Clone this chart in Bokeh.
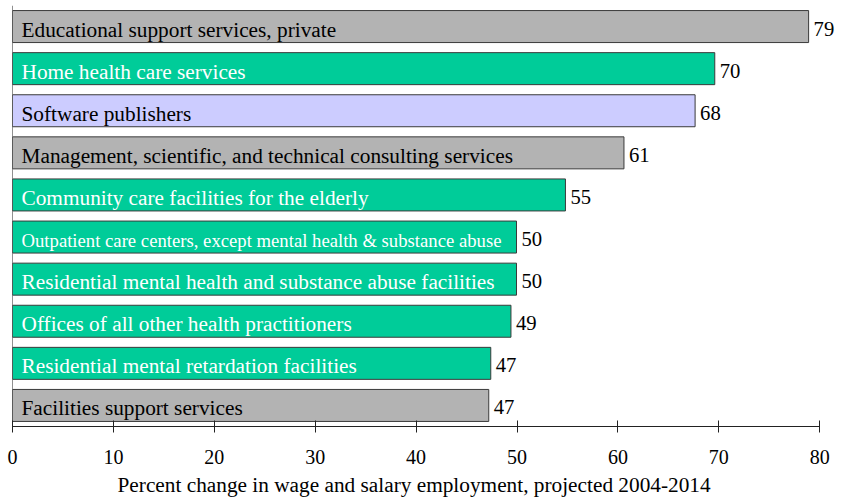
from bokeh.plotting import figure
from bokeh.models import ColumnDataSource, Range1d, FixedTicker, Span, Title
from bokeh.core.properties import value
from bokeh.embed import file_html
from bokeh.resources import INLINE

industries = [
    "Educational support services, private",
    "Home health care services",
    "Software publishers",
    "Management, scientific, and technical consulting services",
    "Community care facilities for the elderly",
    "Outpatient care centers, except mental health & substance abuse",
    "Residential mental health and substance abuse facilities",
    "Offices of all other health practitioners",
    "Residential mental retardation facilities",
    "Facilities support services",
]
pct_change = [78.9, 69.6, 67.65, 60.6, 54.8, 49.95, 49.95, 49.4, 47.4, 47.2]
pct_labels = ["79", "70", "68", "61", "55", "50", "50", "49", "47", "47"]
groups = ["other", "health", "software", "other", "health",
          "health", "health", "health", "health", "other"]
x_ticks = [0, 10, 20, 30, 40, 50, 60, 70, 80]
x_title = "Percent change in wage and salary employment, projected 2004-2014"

fill_map = {"other": "#b3b3b3", "health": "#00cc99", "software": "#ccccff"}
text_map = {"other": "#000000", "health": "#ffffff", "software": "#000000"}

src = ColumnDataSource(dict(
    pos=list(range(len(industries))),
    name=industries,
    val=pct_change,
    lab=pct_labels,
    fill=[fill_map[g] for g in groups],
    tcol=[text_map[g] for g in groups],
    fsize=["18.7px" if len(n) > 60 else "21.3px" for n in industries],
))

FONT = "Liberation Serif"

p = figure(width=840, height=504, output_backend="svg", toolbar_location=None,
           x_range=Range1d(0, 82.06), y_range=Range1d(9.5, -0.5),
           min_border_left=12, min_border_right=0, min_border_top=5,
           min_border_bottom=20)
p.frame_height = 421
p.frame_width = 828
p.outline_line_color = None
p.xgrid.visible = False
p.ygrid.visible = False
p.yaxis.visible = False

p.hbar(y="pos", right="val", left=0, height=0.76, source=src,
       fill_color="fill", line_color="#3a3a3a", line_width=1)

p.text(x=0, y="pos", text="name", source=src, x_offset=9, y_offset=3,
       text_baseline="middle", text_align="left", text_color="tcol",
       text_font=value(FONT), text_font_size="fsize")

p.text(x="val", y="pos", text="lab", source=src, x_offset=5, y_offset=2,
       text_baseline="middle", text_align="left", text_color="#000000",
       text_font=value(FONT), text_font_size="20.7px")

p.add_layout(Span(location=0, dimension="height", line_color="#222222", line_width=1))

ax = p.xaxis[0]
ax.ticker = FixedTicker(ticks=x_ticks)
ax.bounds = (0, 80)
ax.major_tick_in = 6
ax.major_tick_out = 6
ax.minor_tick_line_color = None
ax.axis_line_color = "#222222"
ax.major_tick_line_color = "#222222"
ax.major_label_text_font = FONT
ax.major_label_text_font_size = "20px"
ax.major_label_text_color = "#000000"
ax.major_label_standoff = 17

p.add_layout(Title(text=x_title, align="left", offset=105, standoff=9,
                   text_font=FONT, text_font_size="21.3px",
                   text_font_style="normal", text_color="#000000"), "below")

open("out.html", "w").write(file_html(p, INLINE))
